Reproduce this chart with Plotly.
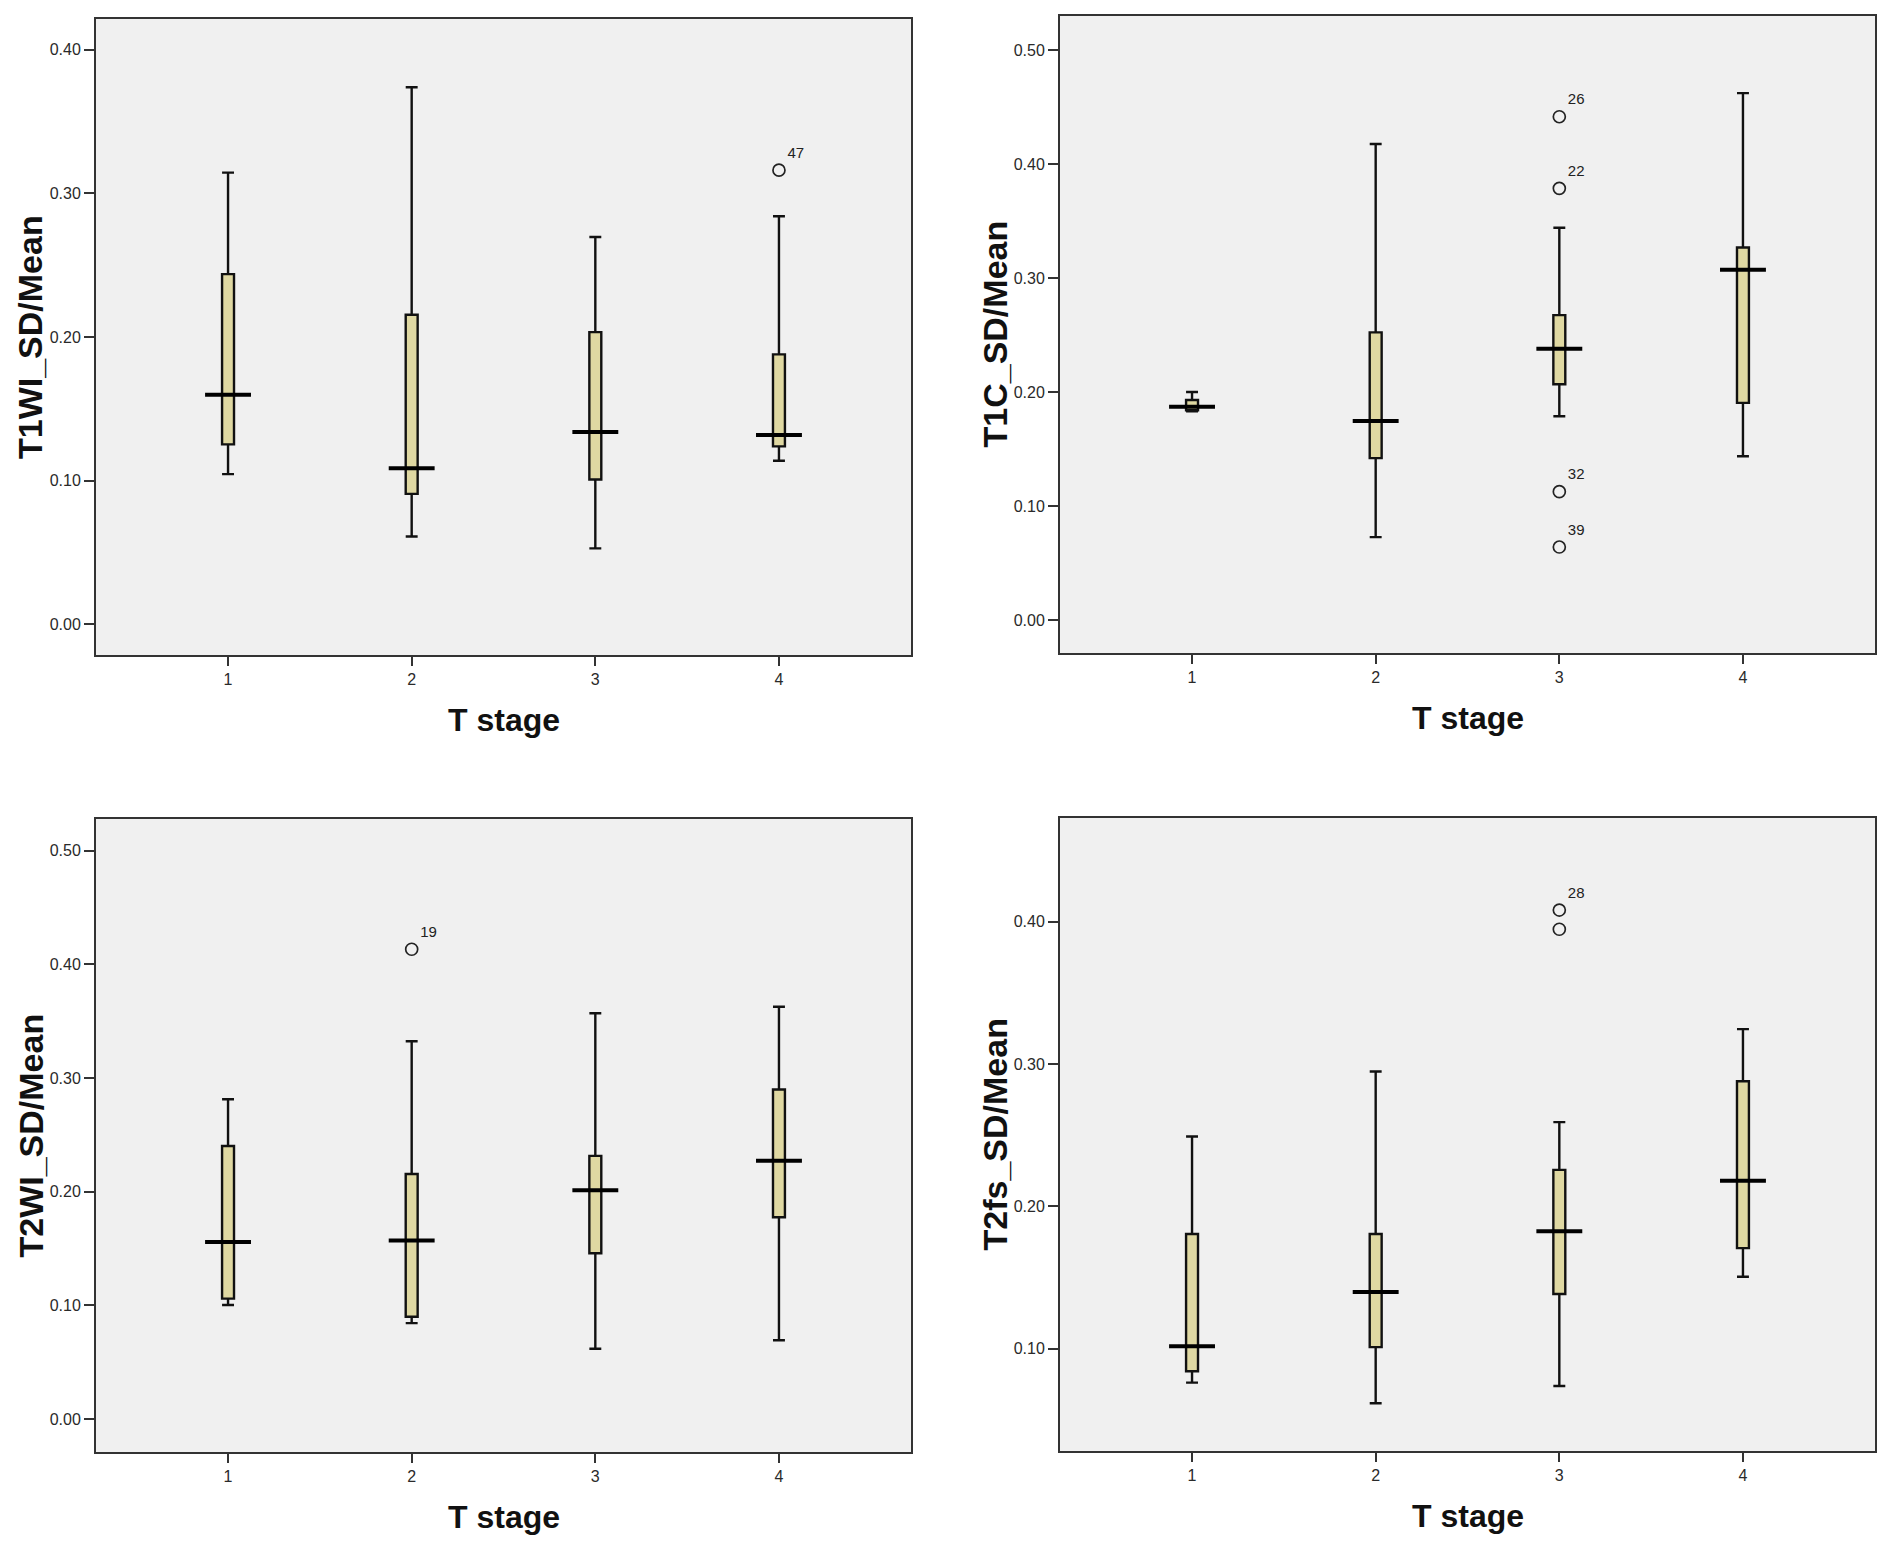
import plotly.graph_objects as go

# T stage categories
stages = [1, 2, 3, 4]

# T1WI_SD/Mean
t1wi_low = [0.1045, 0.061, 0.0528, 0.1138]
t1wi_q1 = [0.1252, 0.0907, 0.1007, 0.1238]
t1wi_med = [0.1597, 0.1086, 0.1338, 0.1317]
t1wi_q3 = [0.2438, 0.2155, 0.2034, 0.1879]
t1wi_high = [0.3145, 0.374, 0.2697, 0.2841]
t1wi_out_x = [4]
t1wi_out_y = [0.3162]
t1wi_out_lab = ["47"]

# T1C_SD/Mean
t1c_low = [0.183, 0.0727, 0.1788, 0.1437]
t1c_q1 = [0.184, 0.142, 0.2069, 0.1905]
t1c_med = [0.187, 0.1745, 0.2381, 0.3074]
t1c_q3 = [0.193, 0.2524, 0.2675, 0.3268]
t1c_high = [0.200, 0.4177, 0.3442, 0.4623]
t1c_out_x = [3, 3, 3, 3]
t1c_out_y = [0.4416, 0.3788, 0.1126, 0.064]
t1c_out_lab = ["26", "22", "32", "39"]

# T2WI_SD/Mean
t2wi_low = [0.1004, 0.0844, 0.0619, 0.0693]
t2wi_q1 = [0.106, 0.090, 0.1459, 0.1775]
t2wi_med = [0.1558, 0.1571, 0.2013, 0.2273]
t2wi_q3 = [0.2403, 0.2156, 0.2316, 0.290]
t2wi_high = [0.2814, 0.3325, 0.3571, 0.3628]
t2wi_out_x = [2]
t2wi_out_y = [0.4134]
t2wi_out_lab = ["19"]

# T2fs_SD/Mean
t2fs_low = [0.0761, 0.0616, 0.0737, 0.1505]
t2fs_q1 = [0.0841, 0.101, 0.1384, 0.1706]
t2fs_med = [0.1017, 0.1398, 0.1824, 0.2180]
t2fs_q3 = [0.1806, 0.1806, 0.2256, 0.2879]
t2fs_high = [0.2491, 0.2948, 0.2592, 0.3246]
t2fs_out_x = [3, 3]
t2fs_out_y = [0.4083, 0.3948]
t2fs_out_lab = ["28", ""]

panels = [
    ("T1WI_SD/Mean", t1wi_low, t1wi_q1, t1wi_med, t1wi_q3, t1wi_high,
     t1wi_out_x, t1wi_out_y, t1wi_out_lab, [-0.0215, 0.4215], [0, 0.1, 0.2, 0.3, 0.4]),
    ("T1C_SD/Mean", t1c_low, t1c_q1, t1c_med, t1c_q3, t1c_high,
     t1c_out_x, t1c_out_y, t1c_out_lab, [-0.029, 0.530], [0, 0.1, 0.2, 0.3, 0.4, 0.5]),
    ("T2WI_SD/Mean", t2wi_low, t2wi_q1, t2wi_med, t2wi_q3, t2wi_high,
     t2wi_out_x, t2wi_out_y, t2wi_out_lab, [-0.029, 0.528], [0, 0.1, 0.2, 0.3, 0.4, 0.5]),
    ("T2fs_SD/Mean", t2fs_low, t2fs_q1, t2fs_med, t2fs_q3, t2fs_high,
     t2fs_out_x, t2fs_out_y, t2fs_out_lab, [0.028, 0.473], [0.1, 0.2, 0.3, 0.4]),
]

W, H = 1890, 1550
# plot frames in pixels: left, right, top, bottom
frames = [(88, 903, 11, 647), (1052, 1867, 8, 645),
          (88, 903, 811, 1444), (1052, 1867, 810, 1443)]

FONT = "Liberation Sans, Arial, sans-serif"
fig = go.Figure()

for i, (p, fr) in enumerate(zip(panels, frames)):
    title, low, q1, med, q3, high, ox, oy, olab, yr, yt = p
    n = "" if i == 0 else str(i + 1)
    xa, ya = "x" + n, "y" + n

    fig.add_trace(go.Box(
        x=stages, q1=q1, median=med, q3=q3, lowerfence=low, upperfence=high,
        width=0.065, whiskerwidth=1, boxpoints=False,
        fillcolor="#dfd8a2", line=dict(color="#111111", width=2.4),
        xaxis=xa, yaxis=ya, showlegend=False, hoverinfo="skip",
    ))

    # thick median bars, wider than the boxes
    mx, my = [], []
    for s, m in zip(stages, med):
        mx += [s - 0.125, s + 0.125, None]
        my += [m, m, None]
    fig.add_trace(go.Scatter(
        x=mx, y=my, mode="lines", line=dict(color="black", width=4),
        xaxis=xa, yaxis=ya, showlegend=False, hoverinfo="skip",
    ))

    fig.add_trace(go.Scatter(
        x=ox, y=oy, mode="markers+text", text=olab, textposition="top right",
        textfont=dict(family=FONT, size=15, color="#222222"),
        marker=dict(symbol="circle-open", size=12, color="#222222",
                    line=dict(width=1.7, color="#222222")),
        xaxis=xa, yaxis=ya, showlegend=False, hoverinfo="skip",
    ))

    l, r, t, b = fr
    axis_common = dict(showline=True, mirror=True, linecolor="#333333", linewidth=2,
                       ticks="outside", tickwidth=2, tickcolor="#333333",
                       showgrid=False, zeroline=False,
                       tickfont=dict(family=FONT, size=16, color="#2a2a2a"))
    fig.layout["xaxis" + n] = dict(
        domain=[l / W, r / W], anchor=ya, range=[0.281, 4.719], ticklen=9,
        tickvals=stages, ticktext=[str(s) for s in stages], **axis_common)
    fig.layout["yaxis" + n] = dict(
        domain=[1 - b / H, 1 - t / H], anchor=xa, range=yr, ticklen=10,
        tickvals=yt, tickformat=".2f", **axis_common)

    fig.add_annotation(
        text="<b>" + title + "</b>", xref=xa + " domain", yref=ya + " domain",
        x=0, y=0.5, xshift=-66, textangle=-90, showarrow=False,
        xanchor="center", yanchor="middle",
        font=dict(family=FONT, size=34, color="#111111"))
    fig.add_annotation(
        text="<b>T stage</b>", xref=xa + " domain", yref=ya + " domain",
        x=0.5, y=0, yshift=-65, showarrow=False,
        xanchor="center", yanchor="middle",
        font=dict(family=FONT, size=32, color="#111111"))

fig.update_layout(
    width=W, height=H, margin=dict(l=0, r=0, t=0, b=0),
    paper_bgcolor="white", plot_bgcolor="#f0f0f0",
)

fig.write_html("out.html")
